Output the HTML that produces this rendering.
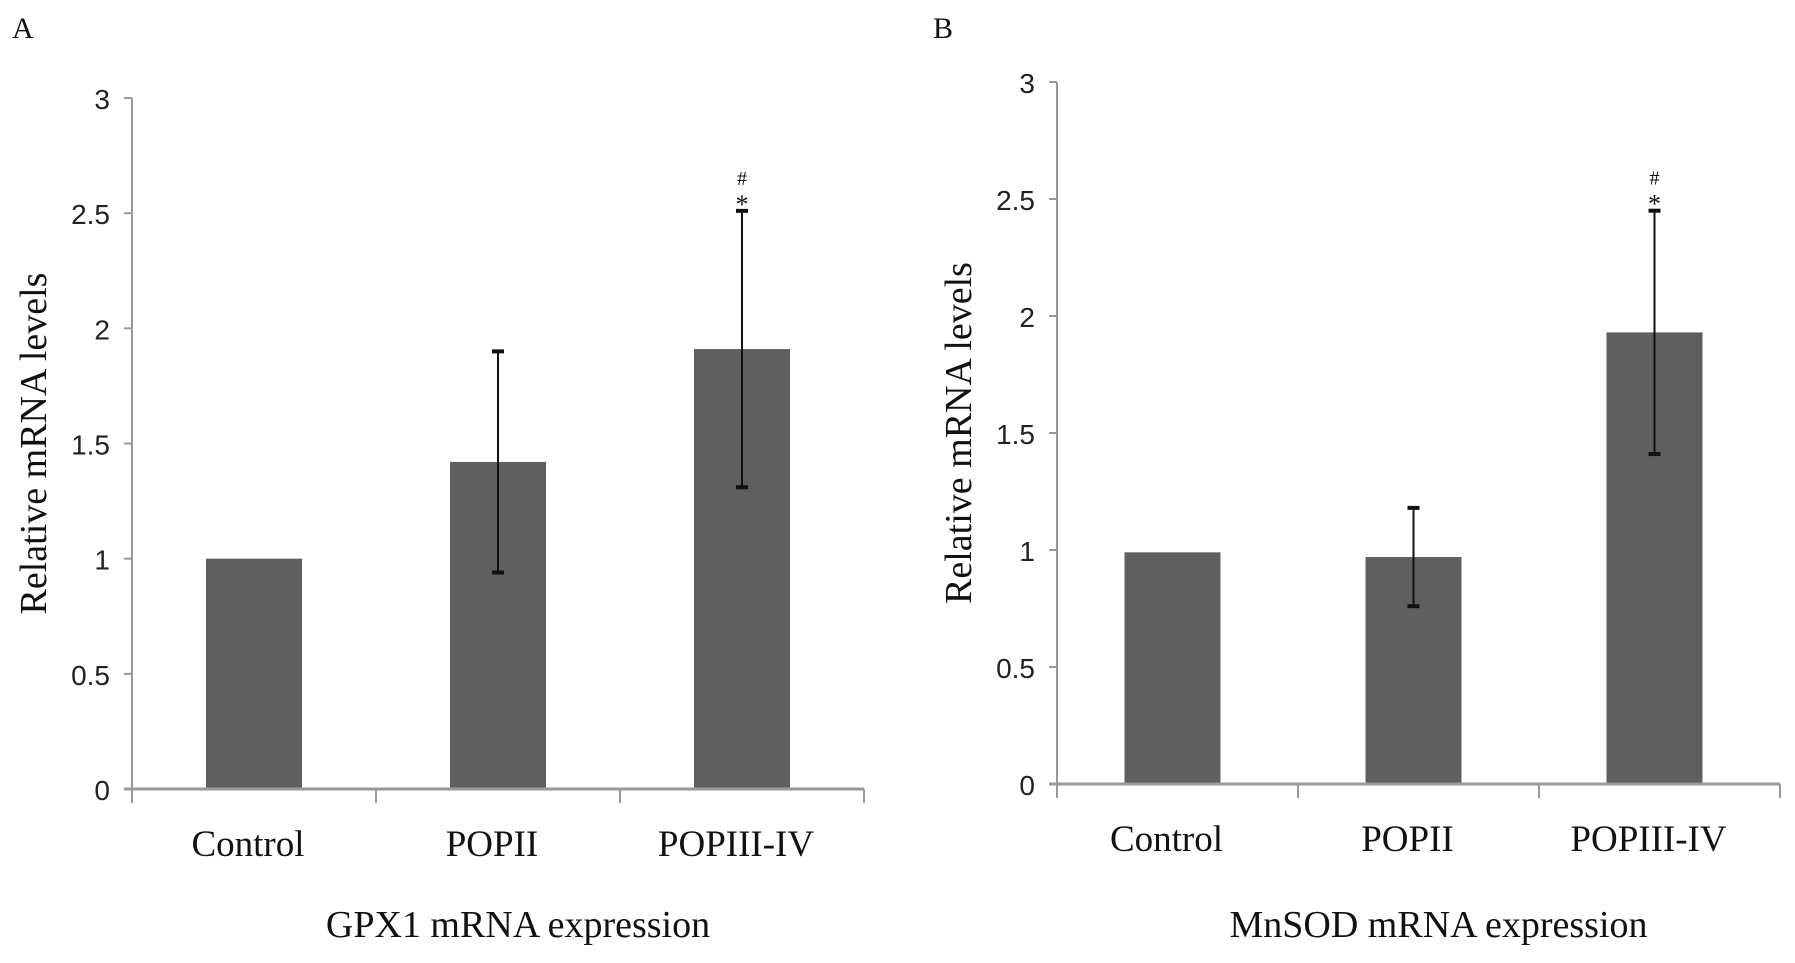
<!DOCTYPE html>
<html><head><meta charset="utf-8"><style>
body{margin:0;background:#fff}
svg text{font-family:"Liberation Serif",serif;fill:#111}
.tick{font-family:"Liberation Sans",sans-serif;font-size:28px;fill:#222}
</style></head><body>
<svg id="chart" width="1795" height="958">
<text x="12" y="38" font-size="30">A</text>
<text x="933" y="38" font-size="30">B</text>
</svg>
<script>
const categories=["Control","POPII","POPIII-IV"];
const gpxValues=[1.0,1.42,1.91];
const gpxErrors=[0,0.48,0.6];
const sodValues=[0.99,0.97,1.93];
const sodErrors=[0,0.21,0.52];
const yTicks=[0,0.5,1,1.5,2,2.5,3];
const yTickLabels=["0","0.5","1","1.5","2","2.5","3"];
const svg=document.getElementById('chart');
const NS='http://www.w3.org/2000/svg';
function mk(t,a,p){const e=document.createElementNS(NS,t);for(const k in a)e.setAttribute(k,a[k]);(p||svg).appendChild(e);return e;}
function panel(cfg,vals,errs,id){
  const g=mk('g',{});
  
  
  const y=v=>cfg.y0-(cfg.y0-cfg.yTop)*v/3;
  const bw=(cfg.x1-cfg.x0)/categories.length;
  const cx=i=>cfg.x0+bw*(i+0.5)+cfg.off;
  vals.forEach((v,i)=>{
    const b=mk('rect',{x:cx(i)-48,y:y(v),width:96,height:cfg.y0-y(v),fill:'#5f5f5f'},g);
    
    
    if(errs[i]>0){
      const e=mk('g',{stroke:'#111','stroke-width':2},g);
      
      
      mk('line',{x1:cx(i),x2:cx(i),y1:y(v-errs[i]),y2:y(v+errs[i])},e);
      mk('line',{x1:cx(i)-6,x2:cx(i)+6,y1:y(v-errs[i]),y2:y(v-errs[i]),'stroke-width':4},e);
      mk('line',{x1:cx(i)-6,x2:cx(i)+6,y1:y(v+errs[i]),y2:y(v+errs[i]),'stroke-width':4},e);
    }
  });
  const hi=vals.length-1;
  const an=mk('text',{x:cx(hi),y:y(vals[hi]+errs[hi])-26,'font-size':20,'text-anchor':'middle'},g);an.textContent='#';
  
  
  const as=mk('text',{x:cx(hi),y:y(vals[hi]+errs[hi])+2,'font-size':26,'text-anchor':'middle'},g);as.textContent='*';
  
  
  const ax=mk('g',{stroke:'#999','stroke-width':2},g);
  
  
  mk('line',{x1:cfg.x0,x2:cfg.x0,y1:cfg.yTop,y2:cfg.y0+14},ax);
  mk('line',{x1:cfg.x0-8,x2:cfg.x1,y1:cfg.y0,y2:cfg.y0,'stroke-width':3},ax);
  for(let i=1;i<=categories.length;i++)mk('line',{x1:cfg.x0+bw*i,x2:cfg.x0+bw*i,y1:cfg.y0,y2:cfg.y0+14},ax);
  yTicks.forEach((t,i)=>{
    mk('line',{x1:cfg.x0-8,x2:cfg.x0,y1:y(t),y2:y(t)},ax);
    const l=mk('text',{x:cfg.x0-22,y:y(t)+11,'text-anchor':'end',class:'tick'},g);l.textContent=yTickLabels[i];
    
    
  });
  categories.forEach((c,i)=>{
    const l=mk('text',{x:cx(i)-6,y:cfg.y0+67,'text-anchor':'middle','font-size':37},g);l.textContent=c;
    
    
  });
  const yt=mk('text',{x:0,y:0,'text-anchor':'middle','font-size':38,transform:`translate(${cfg.x0-86},${(cfg.y0+cfg.yTop)/2}) rotate(-90)`},g);
  yt.textContent='Relative mRNA levels';
  
  
  const xt=mk('text',{x:(cfg.x0+cfg.x1)/2+20,y:937,'text-anchor':'middle','font-size':38},g);
  xt.textContent=cfg.title;
  
  
}
panel({x0:132,x1:864,y0:789,yTop:98,off:0,title:'GPX1 mRNA expression'},gpxValues,gpxErrors,'gpx1');
panel({x0:1057,x1:1780,y0:784,yTop:82,off:-5,title:'MnSOD mRNA expression'},sodValues,sodErrors,'mnsod');
</script>
</body></html>
